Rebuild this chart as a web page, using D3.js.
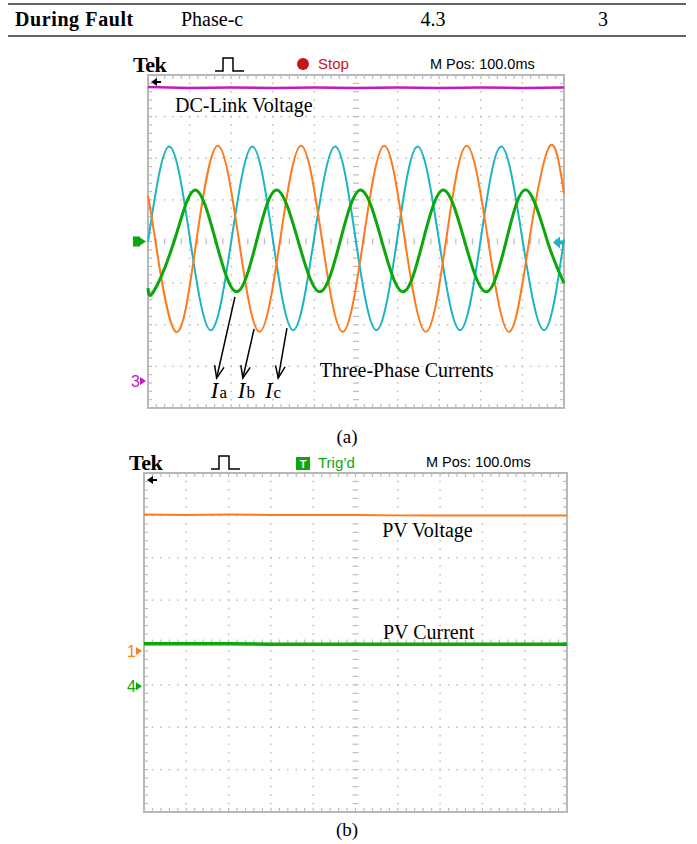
<!DOCTYPE html>
<html>
<head>
<meta charset="utf-8">
<script src="https://cdn.jsdelivr.net/npm/d3@7"></script>
<style>
  body { margin: 0; background: #fff; }
  svg { display: block; }
</style>
</head>
<body>
<svg id="chart" width="697" height="844"></svg>
<script>
// table row above the figure
const tableCells = ["During Fault", "Phase-c", "4.3", "3"];

// (a) traces, in scope divisions: [time div, level div]
const dcLink = [[0, 3.71], [1, 3.69], [2, 3.70], [3, 3.69], [4, 3.70], [5, 3.69], [6, 3.70], [7, 3.69], [8, 3.70], [9, 3.69], [10, 3.70]];
const currentA = [[0, -1.12], [0.13, -1.21], [0.63, 0.01], [1.13, 1.24], [1.63, 0.01], [2.13, -1.21], [2.61, 0.01], [3.09, 1.24], [3.61, 0.01], [4.13, -1.21], [4.62, 0.01], [5.11, 1.24], [5.62, 0.01], [6.13, -1.21], [6.61, 0.01], [7.10, 1.24], [7.61, 0.01], [8.13, -1.21], [8.61, 0.01], [9.09, 1.24], [9.60, 0.01], [10, -1.0]];
const currentB = [[0, 1.10], [0.17, 0.06], [0.67, -2.17], [1.17, 0.06], [1.68, 2.30], [2.18, 0.06], [2.68, -2.17], [3.18, 0.06], [3.68, 2.30], [4.18, 0.06], [4.68, -2.17], [5.18, 0.06], [5.68, 2.30], [6.17, 0.06], [6.68, -2.17], [7.17, 0.06], [7.66, 2.30], [8.17, 0.06], [8.68, -2.17], [9.17, 0.06], [9.66, 2.30], [10, 1.15]];
const currentC = [[0, 0.0], [0.51, 2.28], [1.01, 0.06], [1.51, -2.13], [2.01, 0.06], [2.51, 2.28], [3.00, 0.06], [3.49, -2.13], [3.99, 0.06], [4.50, 2.28], [4.99, 0.06], [5.49, -2.13], [5.99, 0.06], [6.48, 2.28], [6.99, 0.06], [7.50, -2.13], [8.00, 0.06], [8.49, 2.28], [9.00, 0.06], [9.52, -2.13], [10, 0.05]];

// (b) traces
const pvVoltage = [[0, 3.02], [1, 3.01], [2, 3.02], [3, 3.01], [4, 3.01], [5, 3.01], [6, 3.00], [7, 3.00], [8, 3.00], [9, 3.00], [10, 3.00]];
const pvCurrent = [[0, -0.03], [1, -0.03], [2, -0.03], [3, -0.04], [4, -0.04], [5, -0.04], [6, -0.04], [7, -0.04], [8, -0.04], [9, -0.04], [10, -0.04]];

// arrows for the phase labels: tail on the trace, head above the label
const phaseArrows = [
  {name: "a", tail: [2.09, -1.33], head: [1.65, -3.28], label: [1.51, -3.76]},
  {name: "b", tail: [2.55, -2.10], head: [2.28, -3.28], label: [2.16, -3.76]},
  {name: "c", tail: [3.34, -2.08], head: [3.13, -3.28], label: [2.81, -3.76]}
];

const colors = {
  magenta: "#c21bc4", orange: "#ff7a1a", cyan: "#1db4c2", green: "#0aa80a",
  grid: "#bdbdbd", frame: "#b8b8b8", red: "#c8141e"
};
const sans = "Liberation Sans, Arial, sans-serif";
const serif = "Liberation Serif, Times New Roman, serif";

const svg = d3.select("#chart");

// ---- table row
svg.append("line").attr("x1", 8).attr("x2", 686).attr("y1", 4).attr("y2", 4)
  .attr("stroke", "#666").attr("stroke-width", 2);
svg.append("line").attr("x1", 8).attr("x2", 686).attr("y1", 36).attr("y2", 36)
  .attr("stroke", "#666").attr("stroke-width", 2);
const cellX = [15, 181, 433, 603];
svg.selectAll("text.cell").data(tableCells).enter().append("text")
  .attr("class", "cell")
  .attr("x", (d, i) => cellX[i])
  .attr("y", 26)
  .attr("text-anchor", (d, i) => i >= 2 ? "middle" : "start")
  .attr("font-family", serif)
  .attr("font-size", 20)
  .attr("font-weight", (d, i) => i === 0 ? "bold" : "normal")
  .attr("letter-spacing", (d, i) => i === 0 ? 0.6 : 0)
  .text(d => d);

function scope(box) {
  const g = svg.append("g");
  const x = d3.scaleLinear().domain([0, 10]).range([box.left, box.left + box.width]);
  const y = d3.scaleLinear().domain([-4, 4]).range([box.top + box.height, box.top]);
  const fine = d3.range(0, 10.01, 0.2);
  const fineY = d3.range(-4, 4.01, 0.2);

  // dotted grid
  const grid = g.append("g").attr("fill", colors.grid);
  d3.range(1, 10).filter(i => i !== 5).forEach(i => {
    fineY.forEach(v => grid.append("rect").attr("x", x(i) - 0.75).attr("y", y(v) - 0.75).attr("width", 1.5).attr("height", 1.5));
  });
  d3.range(-3, 4).filter(j => j !== 0).forEach(j => {
    fine.forEach(t => grid.append("rect").attr("x", x(t) - 0.75).attr("y", y(j) - 0.75).attr("width", 1.5).attr("height", 1.5));
  });
  // centre axes with minor ticks
  fineY.forEach(v => g.append("line").attr("x1", x(5) - 3).attr("x2", x(5) + 3)
    .attr("y1", y(v)).attr("y2", y(v)).attr("stroke", colors.grid).attr("stroke-width", 1.2));
  fine.forEach(t => g.append("line").attr("x1", x(t)).attr("x2", x(t))
    .attr("y1", y(0) - 3).attr("y2", y(0) + 3).attr("stroke", colors.grid).attr("stroke-width", 1.2));
  // frame ticks
  fine.forEach(t => {
    g.append("line").attr("x1", x(t)).attr("x2", x(t)).attr("y1", y(4)).attr("y2", y(4) + 4)
      .attr("stroke", colors.grid).attr("stroke-width", 1.2);
    g.append("line").attr("x1", x(t)).attr("x2", x(t)).attr("y1", y(-4)).attr("y2", y(-4) - 4)
      .attr("stroke", colors.grid).attr("stroke-width", 1.2);
  });
  fineY.forEach(v => {
    g.append("line").attr("x1", x(0)).attr("x2", x(0) + 4).attr("y1", y(v)).attr("y2", y(v))
      .attr("stroke", colors.grid).attr("stroke-width", 1.2);
    g.append("line").attr("x1", x(10)).attr("x2", x(10) - 4).attr("y1", y(v)).attr("y2", y(v))
      .attr("stroke", colors.grid).attr("stroke-width", 1.2);
  });
  g.append("rect").attr("x", box.left).attr("y", box.top).attr("width", box.width).attr("height", box.height)
    .attr("fill", "none").attr("stroke", colors.frame).attr("stroke-width", 2);

  // header
  g.append("text").attr("x", box.left - 15).attr("y", box.top - 3)
    .attr("font-family", serif).attr("font-weight", "bold").attr("font-size", 22)
    .attr("letter-spacing", -0.5).text("Tek");
  const px = box.left + 67;
  g.append("path").attr("d", `M${px},${box.top - 4}H${px + 8}V${box.top - 17}H${px + 18}V${box.top - 4}H${px + 29}`)
    .attr("fill", "none").attr("stroke", "#000").attr("stroke-width", 1.5);
  g.append("text").attr("x", box.left + 282).attr("y", box.top - 6)
    .attr("font-family", sans).attr("font-size", 14.5)
    .text("M Pos: 100.0ms");
  // trigger position arrow
  const ax = box.left + 3, ay = box.top + 7;
  g.append("path").attr("d", `M${ax},${ay}L${ax + 6},${ay - 4}V${ay - 1}H${ax + 10}V${ay + 1}H${ax + 6}V${ay + 4}Z`)
    .attr("fill", "#000");

  return {g, x, y};
}

function channelMark(s, label, level, color) {
  const yy = s.y(level), x0 = s.x(0);
  s.g.append("text").attr("x", x0 - 8).attr("y", yy + 6).attr("text-anchor", "end")
    .attr("font-family", sans).attr("font-size", 16).attr("fill", color).text(label);
  s.g.append("path").attr("d", `M${x0 - 8},${yy - 4}L${x0 - 2},${yy}L${x0 - 8},${yy + 4}Z`).attr("fill", color);
}

function trace(s, data, color, width, curve) {
  const line = d3.line().x(d => s.x(d[0])).y(d => s.y(d[1])).curve(curve || d3.curveLinear);
  s.g.append("path").datum(data).attr("d", line)
    .attr("fill", "none").attr("stroke", color).attr("stroke-width", width).attr("stroke-linejoin", "round");
}

// ---- panel (a)
const A = scope({left: 148, top: 75, width: 416, height: 333});
A.g.append("circle").attr("cx", 303).attr("cy", 64).attr("r", 6).attr("fill", colors.red);
A.g.append("text").attr("x", 318).attr("y", 69).attr("font-family", sans)
  .attr("font-size", 15).attr("fill", colors.red).text("Stop");

trace(A, dcLink, colors.magenta, 2.5);
trace(A, currentC, colors.cyan, 2, d3.curveNatural);
trace(A, currentB, colors.orange, 2, d3.curveNatural);
trace(A, currentA, colors.green, 3, d3.curveNatural);

// ch markers
A.g.append("rect").attr("x", A.x(0) - 15).attr("y", A.y(0) - 5).attr("width", 7).attr("height", 10).attr("fill", colors.green);
A.g.append("path").attr("d", `M${A.x(0) - 8},${A.y(0) - 4}L${A.x(0) - 2},${A.y(0)}L${A.x(0) - 8},${A.y(0) + 4}Z`).attr("fill", colors.green);
channelMark(A, "3", -3.35, colors.magenta);
A.g.append("path")
  .attr("d", `M${A.x(10) - 11},${A.y(0) + 1}L${A.x(10) - 4},${A.y(0) - 5}V${A.y(0) - 1}H${A.x(10)}V${A.y(0) + 3}H${A.x(10) - 4}V${A.y(0) + 7}Z`)
  .attr("fill", colors.cyan);

A.g.append("text").attr("x", A.x(0.65)).attr("y", A.y(3.11)).attr("font-family", serif).attr("font-size", 20).text("DC-Link Voltage");
A.g.append("text").attr("x", A.x(4.13)).attr("y", A.y(-3.26)).attr("font-family", serif).attr("font-size", 20).text("Three-Phase Currents");

A.g.selectAll("line.arr").data(phaseArrows).enter().append("line")
  .attr("x1", d => A.x(d.tail[0])).attr("y1", d => A.y(d.tail[1]))
  .attr("x2", d => A.x(d.head[0])).attr("y2", d => A.y(d.head[1]))
  .attr("stroke", "#000").attr("stroke-width", 1.5);
phaseArrows.forEach(d => {
  const x1 = A.x(d.tail[0]), y1 = A.y(d.tail[1]), x2 = A.x(d.head[0]), y2 = A.y(d.head[1]);
  const ang = Math.atan2(y2 - y1, x2 - x1), L = 13, w = 0.38;
  A.g.append("path")
    .attr("d", `M${x2 - L * Math.cos(ang - w)},${y2 - L * Math.sin(ang - w)}L${x2},${y2}L${x2 - L * Math.cos(ang + w)},${y2 - L * Math.sin(ang + w)}`)
    .attr("fill", "none").attr("stroke", "#000").attr("stroke-width", 1.5);
  const t = A.g.append("text").attr("x", A.x(d.label[0])).attr("y", A.y(d.label[1])).attr("font-family", serif);
  t.append("tspan").attr("font-style", "italic").attr("font-size", 23).text("I");
  t.append("tspan").attr("font-size", 17).attr("dx", 1).text(d.name);
});

svg.append("text").attr("x", 347).attr("y", 443).attr("text-anchor", "middle")
  .attr("font-family", serif).attr("font-size", 19).text("(a)");

// ---- panel (b)
const B = scope({left: 144, top: 473, width: 423, height: 339});
B.g.append("rect").attr("x", 296).attr("y", 457).attr("width", 14).attr("height", 13).attr("fill", colors.green);
B.g.append("text").attr("x", 303).attr("y", 468).attr("text-anchor", "middle").attr("font-family", sans)
  .attr("font-size", 11).attr("font-weight", "bold").attr("fill", "#fff").text("T");
B.g.append("text").attr("x", 318).attr("y", 468).attr("font-family", sans)
  .attr("font-size", 15).attr("fill", colors.green).text("Trig’d");

trace(B, pvVoltage, colors.orange, 2);
trace(B, pvCurrent, colors.green, 3.5);
channelMark(B, "1", -0.2, colors.orange);
channelMark(B, "4", -1.03, colors.green);

B.g.append("text").attr("x", B.x(5.63)).attr("y", B.y(2.49)).attr("font-family", serif).attr("font-size", 20).text("PV Voltage");
B.g.append("text").attr("x", B.x(5.65)).attr("y", B.y(0.08)).attr("font-family", serif).attr("font-size", 20).text("PV Current");

svg.append("text").attr("x", 347).attr("y", 836).attr("text-anchor", "middle")
  .attr("font-family", serif).attr("font-size", 19).text("(b)");
</script>
</body>
</html>
